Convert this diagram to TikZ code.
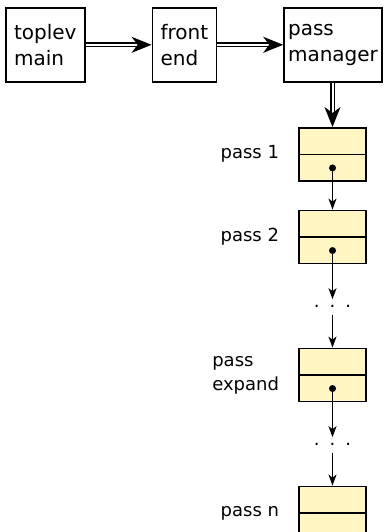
\documentclass[tikz,border=0pt]{standalone}
\usepackage{fontspec}
\setmainfont{DejaVu Sans}
\usetikzlibrary{positioning,calc,arrows.meta}
\definecolor{passyellow}{RGB}{255,246,196}

\begin{document}
\begin{tikzpicture}[
        x=1pt, y=-1pt,
        stage/.style={draw, line width=1.6pt, align=left, minimum height=74pt,
            font=\fontsize{20}{26.5}\selectfont},
        passbox/.style={draw, line width=1.6pt, fill=passyellow,
            minimum width=67pt, minimum height=53pt},
        passname/.style={align=left, inner sep=2pt, font=\fontsize{18}{24}\selectfont},
        more/.style={inner sep=0pt, text height=3pt, text depth=0pt,
            font=\fontsize{18}{18}\selectfont},
        feed/.style={double, double distance=2pt, line width=1.5pt,
            -{Stealth[length=20pt,width=16pt,inset=6pt]}},
        link/.style={line width=1.5pt, -{Stealth[length=11pt,width=8pt,inset=3pt]}},
        node distance=66pt,
    ]
    \useasboundingbox (0,0) rectangle (383,532);

    % driver chain
    \node[stage, minimum width=79pt, anchor=north west] (toplev) at (5,7) {toplev\\main};
    \node[stage, minimum width=64pt, right=of toplev] (front) {front\\end};
    \node[stage, minimum width=98pt, right=of front] (pm) {pass\\manager};

    % list of passes
    \node[passbox, anchor=north] (p1) at (332.5,127) {};
    \node[passbox, below=28pt of p1] (p2) {};
    \node[more, below=40pt of p2] (dots1) {.\hspace{10pt}.\hspace{10pt}.};
    \node[passbox, below=40pt of dots1] (pexp) {};
    \node[more, below=40pt of pexp] (dots2) {.\hspace{10pt}.\hspace{10pt}.};
    \node[passbox, below=40pt of dots2] (pn) {};

    \node[passname, left=17pt of p1] {pass 1};
    \node[passname, left=17pt of p2] {pass 2};
    \node[passname, left=17pt of pexp] {pass\\expand};
    \node[passname, left=17pt of pn] {pass n};

    \foreach \p in {p1,p2,pexp,pn}
        \draw[line width=1.6pt] (\p.west) -- (\p.east);
    \foreach \p in {p1,p2,pexp} {
        \coordinate (\p-ptr) at ($(\p.center)!0.5!(\p.south)$);
        \fill (\p-ptr) circle (3.5pt);
    }

    \draw[feed] (toplev) -- (front);
    \draw[feed] (front) -- (pm);
    \draw[feed] (pm.south -| p1) -- (p1);

    \draw[link] (p1-ptr) -- (p2);
    \draw[link, shorten >=5pt] (p2-ptr) -- (dots1);
    \draw[link, shorten <=7pt] (dots1) -- (pexp);
    \draw[link, shorten >=5pt] (pexp-ptr) -- (dots2);
    \draw[link, shorten <=7pt] (dots2) -- (pn);
\end{tikzpicture}
\end{document}
